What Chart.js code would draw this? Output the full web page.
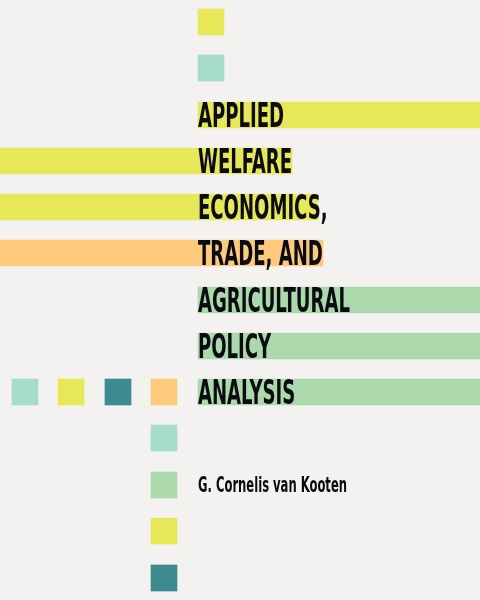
<!DOCTYPE html>
<html><head><meta charset="utf-8">
<script src="https://cdn.jsdelivr.net/npm/chart.js@4"></script>
<style>html,body{margin:0;padding:0;background:#f3f2f0;}canvas{display:block;}</style>
</head><body>
<canvas id="c" width="480" height="600"></canvas>
<script>
// stripes: centre row (y), start and end (x)
const stripeY     = [115, 161, 207, 253, 300, 346, 392];
const stripeStart = [198, 0, 0, 0, 198, 198, 198];
const stripeEnd   = [480, 292, 318, 323, 480, 480, 480];
const stripeColor = ['#e6e85a','#e6e85a','#e6e85a','#fdca7c','#acd9ab','#acd9ab','#acd9ab'];
// squares
const squareY     = [22, 68, 392, 392, 392, 392, 438, 485, 531, 578];
const squareStart = [198, 198, 12, 58, 105, 151, 151, 151, 151, 151];
const squareEnd   = [224, 224, 38, 84, 131, 177, 177, 177, 177, 177];
const squareColor = ['#e6e85a','#a6dccb','#a6dccb','#e6e85a','#3d8a8f','#fdca7c','#a6dccb','#acd9ab','#e6e85a','#3d8a8f'];
const titleLines  = ['APPLIED','WELFARE','ECONOMICS,','TRADE, AND','AGRICULTURAL','POLICY','ANALYSIS'];
const author      = 'G. Cornelis van Kooten';

const textPlugin = {
  id:'txt',
  afterDatasetsDraw(chart){
    const {ctx, scales:{x,y}} = chart;
    ctx.save();
    ctx.fillStyle = '#0b0b12';
    ctx.textBaseline = 'alphabetic';
    ctx.font = 'bold 34px "Liberation Sans Narrow", "DejaVu Sans Condensed", sans-serif';
    const sx = 86 / ctx.measureText('APPLIED').width;
    titleLines.forEach((t,i)=>{
      ctx.save();
      ctx.translate(x.getPixelForValue(198), y.getPixelForValue(stripeY[i]) + 12);
      ctx.scale(sx, 1);
      ctx.fillText(t, 0, 0);
      ctx.restore();
    });
    ctx.font = 'bold 21px "Liberation Sans Narrow", "DejaVu Sans Condensed", sans-serif';
    const sa = 149 / ctx.measureText(author).width;
    ctx.translate(x.getPixelForValue(198), y.getPixelForValue(492));
    ctx.scale(sa, 1);
    ctx.fillText(author, 0, 0);
    ctx.restore();
  }
};

new Chart(document.getElementById('c'), {
  type:'bar',
  data:{datasets:[
    {data: stripeY.map((v,i)=>({y:v, x:[stripeStart[i], stripeEnd[i]]})), backgroundColor: stripeColor, barThickness:26, borderSkipped:false},
    {data: squareY.map((v,i)=>({y:v, x:[squareStart[i], squareEnd[i]]})), backgroundColor: squareColor, barThickness:26, borderSkipped:false}
  ]},
  options:{
    indexAxis:'y', responsive:false, animation:false, devicePixelRatio:1,
    layout:{padding:0},
    datasets:{bar:{grouped:false}},
    scales:{
      x:{type:'linear', min:0, max:480, display:false, offset:false},
      y:{type:'linear', min:0, max:600, reverse:true, display:false, offset:false}
    },
    plugins:{legend:{display:false}, tooltip:{enabled:false}}
  },
  plugins:[textPlugin]
});
</script>
</body></html>
